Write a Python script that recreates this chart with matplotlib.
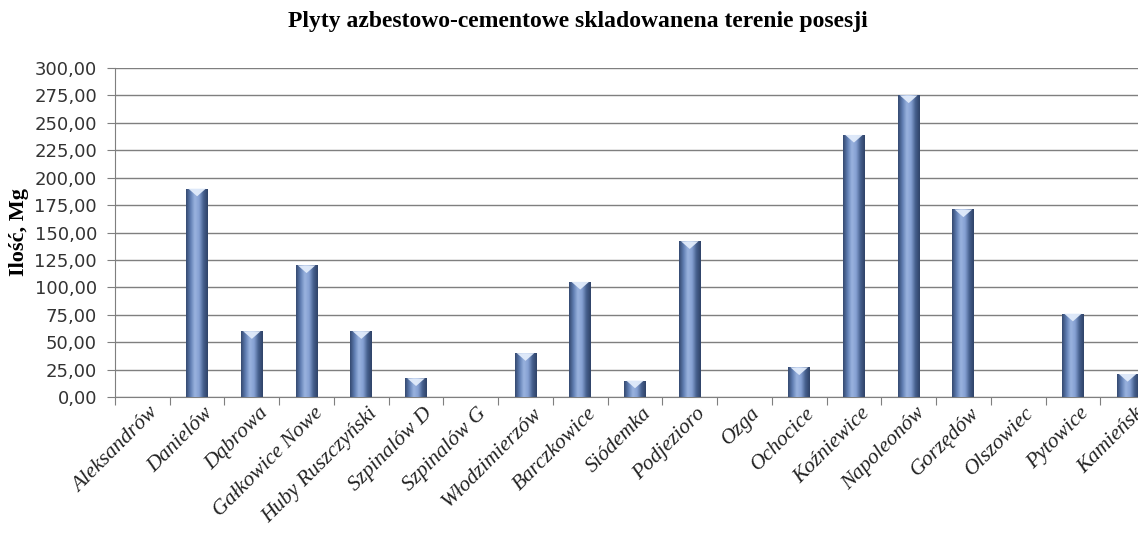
import numpy as np
import matplotlib
matplotlib.use("Agg")
import matplotlib.pyplot as plt
from matplotlib.colors import LinearSegmentedColormap
from matplotlib.ticker import FuncFormatter, MultipleLocator
from matplotlib.patches import Polygon

# data
places = ["Aleksandrów", "Danielów", "Dąbrowa", "Gałkowice Nowe", "Huby Ruszczyński",
          "Szpinalów D", "Szpinalów G", "Włodzimierzów", "Barczkowice", "Siódemka",
          "Podjezioro", "Ozga", "Ochocice", "Koźniewice", "Napoleonów", "Gorzędów",
          "Olszowiec", "Pytowice", "Kamieńsk"]
amount_mg = [0, 190, 60, 120, 60, 17, 0, 40, 105, 15, 142, 0, 27, 239, 275, 171, 0, 76, 21]

title = "Plyty azbestowo-cementowe skladowanena terenie posesji"
ylabel = "Ilość, Mg"

W, H = 1138, 534
fig = plt.figure(figsize=(W / 100, H / 100), dpi=100)
# plot area runs past the right edge, as in the reference
ax = fig.add_axes([115 / W, (H - 397) / H, 1040 / W, 329 / H])

x = np.arange(len(places))
bars = ax.bar(x, amount_mg, width=0.40, color="none", edgecolor="none", zorder=3)

# cylinder-like shading across each bar
cmap = LinearSegmentedColormap.from_list(
    "cyl", ["#34496f", "#5f7db2", "#9ab3df", "#86a1d3", "#46608e", "#2f4267"])
grad = np.linspace(0, 1, 64).reshape(1, -1)
for b in bars:
    h = b.get_height()
    if h <= 0:
        continue
    x0, w = b.get_x(), b.get_width()
    im = ax.imshow(grad, cmap=cmap, aspect="auto", extent=[x0, x0 + w, 0, h],
                   zorder=3, interpolation="bicubic")
    im.set_clip_path(b)
    cap = min(7.0, h * 0.5)
    tri = Polygon([[x0 + w * 0.1, h], [x0 + w * 0.9, h], [x0 + w * 0.5, h - cap]],
                  closed=True, facecolor="#e2ecfb", edgecolor="none", alpha=0.95, zorder=4)
    ax.add_patch(tri)

ax.set_xlim(-0.5, len(places) - 0.5)
ax.set_ylim(0, 300)
ax.yaxis.set_major_locator(MultipleLocator(25))
ax.yaxis.set_major_formatter(FuncFormatter(lambda v, p: f"{v:.2f}".replace(".", ",")))
ax.grid(axis="y", color="#7f7f7f", linewidth=1.0, zorder=0)
ax.set_axisbelow(True)

for s in ["top", "right"]:
    ax.spines[s].set_visible(False)
ax.spines["left"].set_color("#7f7f7f")
ax.spines["bottom"].set_color("#7f7f7f")

ax.set_xticks(np.arange(len(places) + 1) - 0.5, minor=False)
ax.set_xticklabels([])
ax.tick_params(axis="x", length=6, color="#7f7f7f", direction="out")
ax.tick_params(axis="y", length=6, color="#7f7f7f", direction="out",
               labelsize=13, labelcolor="#333333", pad=7)
for t in ax.get_yticklabels():
    t.set_family("DejaVu Sans")

for i, name in enumerate(places):
    ax.annotate(name, xy=(i + 0.12, 0), xycoords="data", xytext=(0, -5),
                textcoords="offset points", rotation=45, rotation_mode="anchor",
                ha="right", va="top", fontsize=15.5, fontstyle="italic",
                family="Liberation Serif", color="#222222")

ax.set_ylabel(ylabel, family="Liberation Serif", fontweight="bold", fontsize=16,
              labelpad=4)
fig.text(578 / W, 1 - 21 / H, title, ha="center", va="center", family="Liberation Serif",
         fontweight="bold", fontsize=17)

fig.savefig("out.png", dpi=100)
